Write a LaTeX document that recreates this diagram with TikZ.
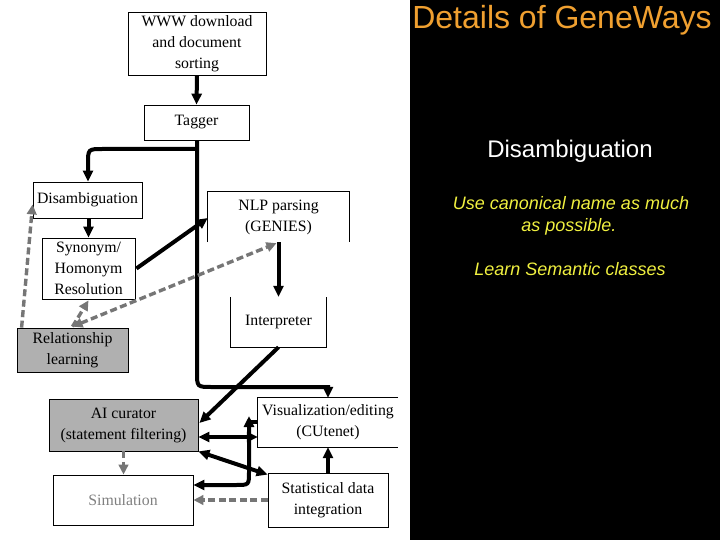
\documentclass[tikz,border=0pt]{standalone}
\usepackage{fontspec}
\setmainfont{Liberation Serif}
\newfontfamily\sansf{Liberation Sans}
\usetikzlibrary{arrows.meta,calc}
\definecolor{fillgray}{RGB}{176,176,176}
\definecolor{dashgray}{RGB}{118,118,118}
\definecolor{titleorange}{RGB}{240,160,48}
\definecolor{noteyellow}{RGB}{240,240,64}
\definecolor{simtext}{RGB}{128,128,128}
\begin{document}
\begin{tikzpicture}[x=1pt,y=-1pt,
  box/.style={draw, line width=0.8pt, inner sep=0pt, align=center,
    font=\fontsize{15.8}{21}\selectfont},
  openbox/.style={inner sep=0pt, align=center, font=\fontsize{15.8}{21}\selectfont},
  graybox/.style={box, fill=fillgray},
  edgeline/.style={line width=0.8pt},
  thk/.style={line width=4pt},
  arr/.style={thk, -{Triangle[length=11pt,width=10pt]}},
  darr/.style={thk, {Triangle[length=11pt,width=10pt]}-{Triangle[length=11pt,width=10pt]}},
  garr/.style={draw=dashgray, line width=3.4pt, dash pattern=on 7pt off 3.5pt,
    -{Triangle[length=10pt,width=9.5pt]}},
  gdarr/.style={draw=dashgray, line width=3.4pt, dash pattern=on 7pt off 3.5pt,
    {Triangle[length=10pt,width=9.5pt]}-{Triangle[length=10pt,width=9.5pt]}}
]
\useasboundingbox (0,0) rectangle (720,540);
\fill[white] (0,0) rectangle (410,540);
\fill[black] (410,0) rectangle (720,540);

% boxes
\node[box, minimum width=138, minimum height=63] (www) at (197,44) {WWW download\\and document\\sorting};
\node[box, minimum width=105, minimum height=35] (tagger) at (196.5,122.5) {Tagger};
\node[box, minimum width=109, minimum height=36] (disamb) at (87.5,200) {Disambiguation};
\node[box, minimum width=93, minimum height=61] (syn) at (88.5,268.5) {Synonym/\\Homonym\\Resolution};
\node[openbox, minimum width=141, minimum height=50] (nlp) at (278.5,217) {NLP parsing\\(GENIES)};
\node[openbox, minimum width=95, minimum height=50] (interp) at (278.5,322) {Interpreter};
\node[graybox, minimum width=111, minimum height=44] (rel) at (72.5,350) {Relationship\\learning};
\node[graybox, minimum width=149, minimum height=52] (ai) at (123.5,425) {AI curator\\(statement filtering)};
\node[openbox, minimum width=140, minimum height=49] (vis) at (328,422.5) {Visualization/editing\\(CUtenet)};
\node[box, minimum width=140, minimum height=50, text=simtext] (sim) at (123,500) {Simulation};
\node[box, minimum width=120, minimum height=54] (stat) at (328,500) {Statistical data\\integration};

% open-sided box outlines
\draw[edgeline] (nlp.south west) -- (nlp.north west) -- (nlp.north east) -- (nlp.south east);
\draw[edgeline] (interp.north west) -- (interp.south west) -- (interp.south east) -- (interp.north east);
\draw[edgeline] (vis.north east) -- (vis.north west) -- (vis.south west) -- (vis.south east);

% black connectors
\draw[arr] (www.south) -- (tagger.north);
\coordinate (trunk) at (197,149);
\draw[arr] (tagger.south -| trunk) -- (197,372) .. controls (197,387) .. (212,387) -- (328,387) -- (vis.north);
\draw[arr] (trunk) -- (103,149) .. controls (88,149) .. (88,164) -- (disamb.north -| 88,0);
\draw[arr] (disamb.south -| syn.north) -- (syn.north);
\draw[arr] ($(syn.east)+(1,0)$) -- ($(nlp.west)+(0,1)$);
\draw[arr] (nlp.south) -- (interp.north);
\draw[arr] (interp.south) -- ($(ai.east)+(1,-2)$);
\draw[darr] ($(ai.east)+(0,12)$) -- ($(vis.west)+(0,14.5)$);
\draw[darr] ($(sim.east)+(0,-15)$) -- (236,485) .. controls (249,485) .. (249,472) -- (249,416);
\draw[thk] (247,422) -- (vis.west |- 0,422);
\draw[darr] (ai.south east) -- ($(stat.north west)+(0,2)$);
\draw[arr] (stat.north) -- (vis.south);

% gray dashed connectors
\draw[garr] (stat.west) -- (sim.east);
\draw[garr] (ai.south) -- (sim.north -| ai.south);
\draw[garr] ($(rel.north west)+(5,0)$) -- ($(disamb.south west)+(0,-14)$);
\draw[garr] ($(rel.north)+(0,-1)$) -- ($(syn.south)+(0,1)$);
\draw[gdarr] ($(rel.north)+(0,-1)$) -- ($(nlp.south)+(-2,1)$);

% right panel text
\node[anchor=base, text=titleorange, font=\sansf\fontsize{32}{36}\selectfont] (title) at (562,29) {Details of GeneWays};
\node[anchor=base, text=white, font=\sansf\fontsize{24}{28}\selectfont] (sub) at (570,158) {Disambiguation};
\node[anchor=base, text=noteyellow, font=\sansf\itshape\fontsize{18}{23}\selectfont] (note1) at (571,210) {Use canonical name as much};
\node[anchor=base, text=noteyellow, font=\sansf\itshape\fontsize{18}{23}\selectfont] (note2) at (569,232) {as possible.};
\node[anchor=base, text=noteyellow, font=\sansf\itshape\fontsize{18}{23}\selectfont] (note3) at (570,275) {Learn Semantic classes};
\end{tikzpicture}
\end{document}
